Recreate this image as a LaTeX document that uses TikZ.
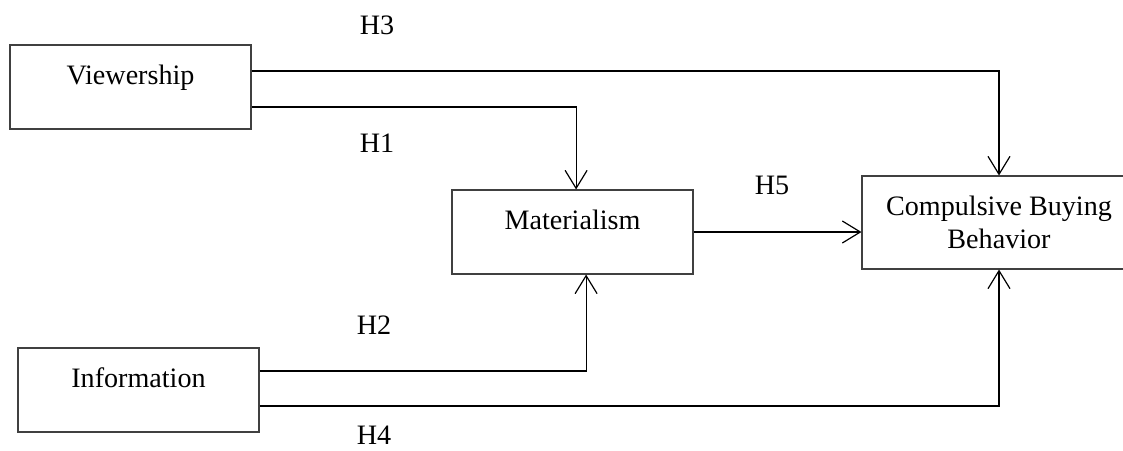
\documentclass[tikz,border=0pt]{standalone}
\usepackage{fontspec}
\setmainfont{Liberation Serif}
\usetikzlibrary{positioning,arrows.meta}

\begin{document}
\begin{tikzpicture}[
    varbox/.style={draw=black!75, line width=0.75pt, align=center, inner sep=0pt,
        minimum width=6.025cm, minimum height=2.1cm, font=\fontsize{20}{24}\selectfont},
    hyplabel/.style={inner sep=0pt, font=\fontsize{20}{24}\selectfont},
    path/.style={line width=0.85pt, -{Straight Barb[length=0.45cm, width=0.55cm]}}
]
        \useasboundingbox (0,0) rectangle (28.075,-11.25);

        % Constructs
        \node[varbox] (view) at (3.2625,-2.175) {Viewership\\[-6pt] \mbox{}};
        \node[varbox] (mat) at (14.3125,-5.8) {Materialism\\[-6pt] \mbox{}};
        \node[varbox] (info) at (3.4625,-9.75) {Information\\[-6pt] \mbox{}};
        \node[varbox, minimum width=6.85cm, minimum height=2.325cm] (cbb) at (24.975,-5.5625) {Compulsive Buying\\Behavior};

        % Hypothesis labels
        \node[hyplabel] (h3) at (9.425,-0.625) {H3};
        \node[hyplabel] (h1) at (9.425,-3.575) {H1};
        \node[hyplabel] (h5) at (19.3,-4.625) {H5};
        \node[hyplabel] (h2) at (9.35,-8.125) {H2};
        \node[hyplabel] (h4) at (9.35,-10.88) {H4};

        % Paths with right angles
        \draw[path] ([yshift=0.4cm]view.east) -| (cbb.north);
        \draw[path] ([yshift=-0.5cm]view.east) -| ([xshift=0.09cm]mat.north);
        \draw[path] (mat.east) -- (mat.east -| cbb.west);
        \draw[path] ([yshift=0.475cm]info.east) -| ([xshift=0.34cm]mat.south);
        \draw[path] ([yshift=-0.4cm]info.east) -| (cbb.south);

    \end{tikzpicture}
\end{document}
